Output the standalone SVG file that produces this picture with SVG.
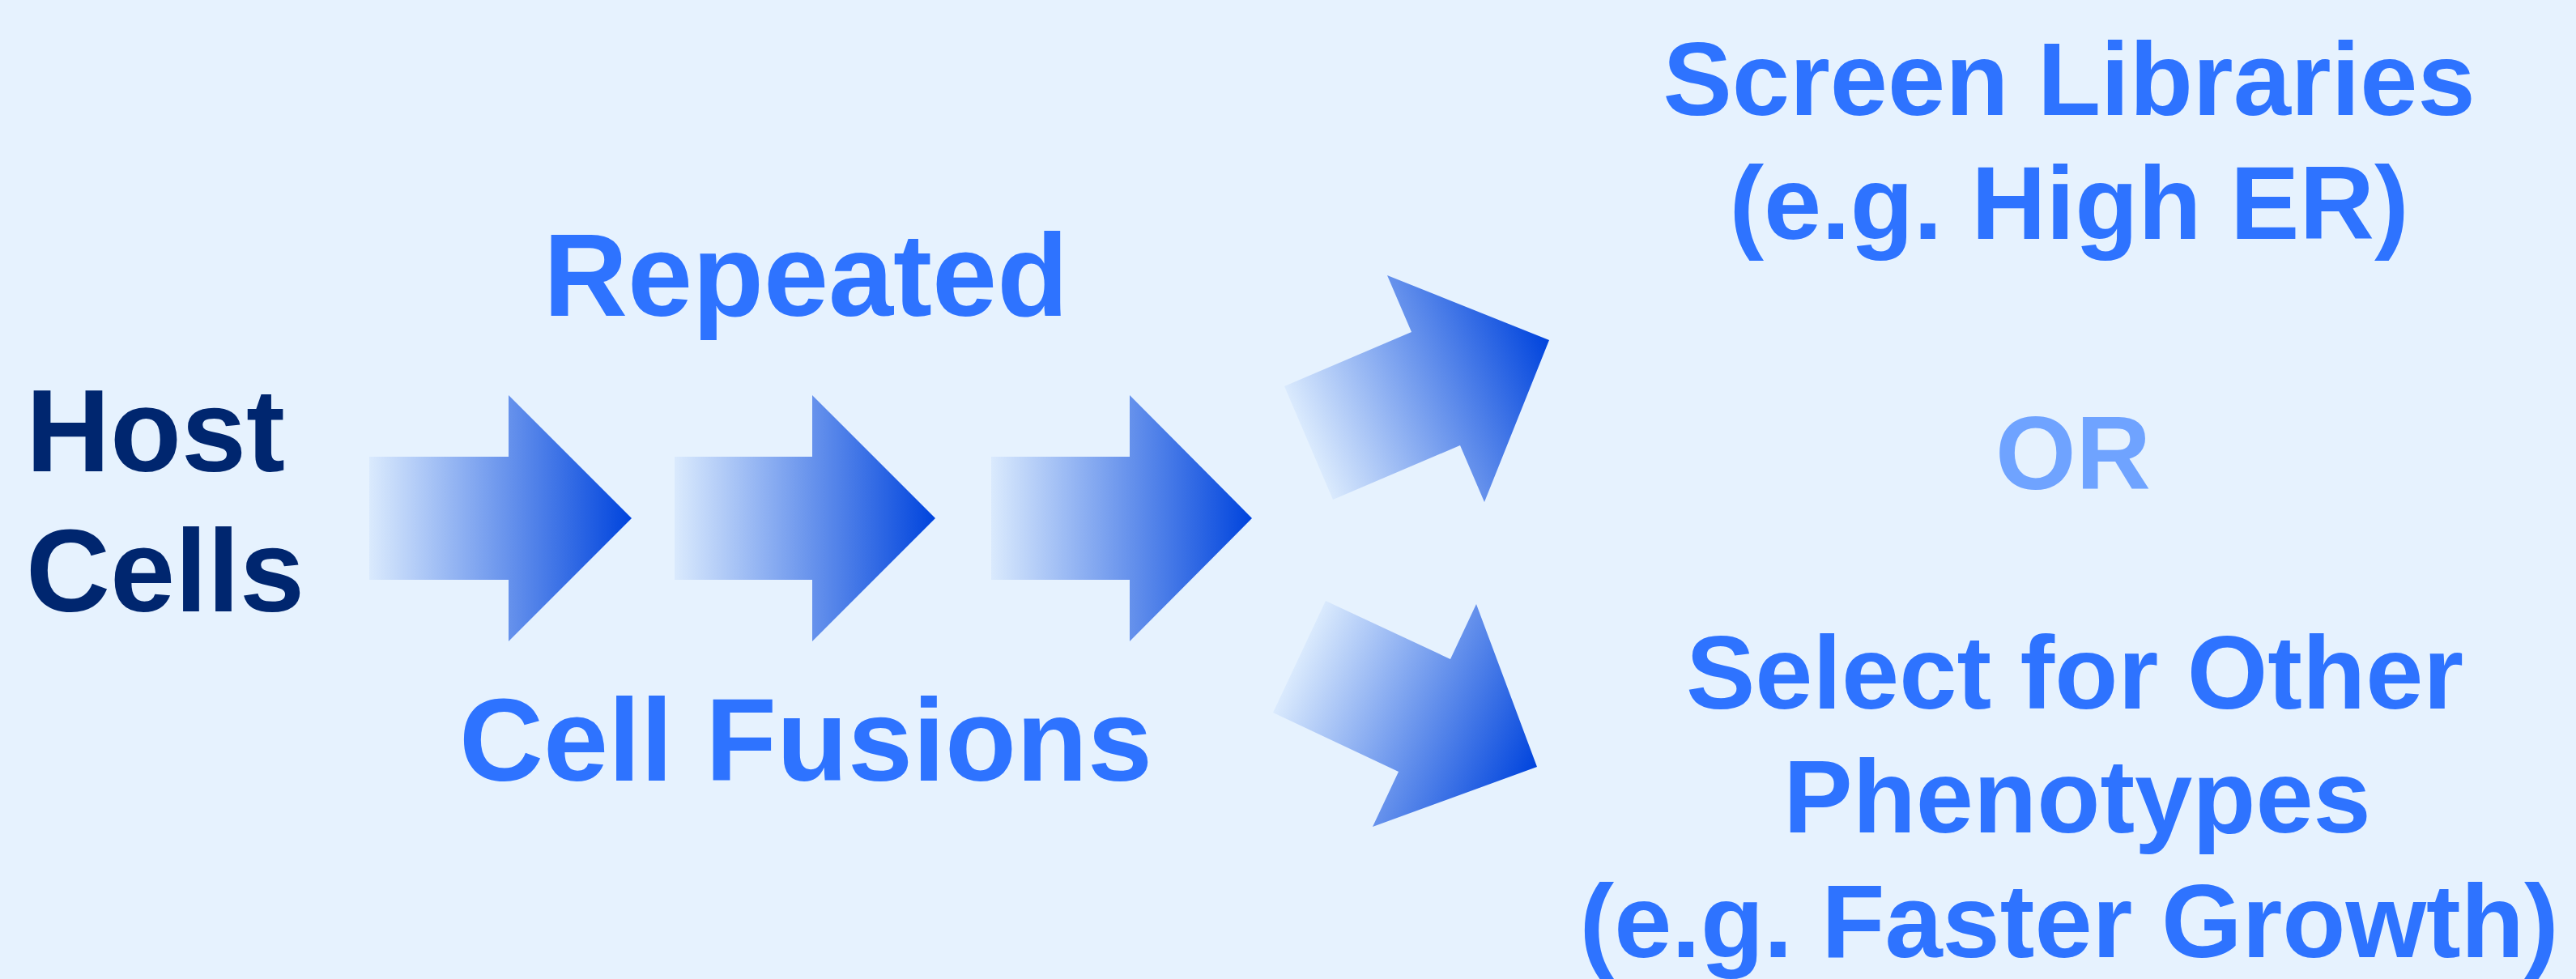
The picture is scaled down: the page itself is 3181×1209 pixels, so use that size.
<svg xmlns="http://www.w3.org/2000/svg" width="3181" height="1209" viewBox="0 0 3181 1209">
<style>
text{font-family:"Liberation Sans",Arial,sans-serif;font-weight:bold}
.host{fill:#00266F;font-size:144px}
.lbl{fill:#2E73FF;font-size:144px;text-anchor:middle}
.out{fill:#2E73FF;font-size:128px;text-anchor:middle}
.or{fill:#6FA3FF;font-size:128px;text-anchor:middle}
</style>
<defs>
<linearGradient id="gH" x1="0" y1="0" x2="1" y2="0">
<stop offset="0" stop-color="#DAEAFD"/>
<stop offset="1" stop-color="#0044DD"/>
</linearGradient>
<linearGradient id="gU" gradientUnits="userSpaceOnUse" x1="1616" y1="547" x2="1913" y2="420">
<stop offset="0" stop-color="#DAEAFD"/>
<stop offset="1" stop-color="#0044DD"/>
</linearGradient>
<linearGradient id="gL" gradientUnits="userSpaceOnUse" x1="1604" y1="811" x2="1898" y2="947">
<stop offset="0" stop-color="#DAEAFD"/>
<stop offset="1" stop-color="#0044DD"/>
</linearGradient>
</defs>
<rect width="3181" height="1209" fill="#E6F2FE"/>
<g id="host-cells">
<text class="host" x="32" y="582">Host</text>
<text class="host" x="32" y="755">Cells</text>
</g>
<g id="repeated"><text class="lbl" x="995" y="390">Repeated</text></g>
<g id="cell-fusions"><text class="lbl" x="995" y="964">Cell Fusions</text></g>
<g id="screen-libraries">
<text class="out" x="2555" y="142">Screen Libraries</text>
<text class="out" x="2555" y="295">(e.g. High ER)</text>
</g>
<g id="or"><text class="or" x="2560" y="604">OR</text></g>
<g id="select-other">
<text class="out" x="2562" y="875">Select for Other</text>
<text class="out" x="2565" y="1028">Phenotypes</text>
<text class="out" x="2555" y="1182">(e.g. Faster Growth)</text>
</g>
<g id="connectors">
<polygon fill="url(#gH)" points="456,564 628,564 628,488 780,640 628,792 628,716 456,716"/>
<polygon fill="url(#gH)" points="833,564 1003,564 1003,488 1155,640 1003,792 1003,716 833,716"/>
<polygon fill="url(#gH)" points="1224,564 1395,564 1395,488 1546,640 1395,792 1395,716 1224,716"/>
<polygon fill="url(#gU)" points="1586,477 1743,410 1713,340 1913,420 1833,620 1803,550 1646,617"/>
<polygon fill="url(#gL)" points="1637,742 1791,814 1823,746 1898,947 1695,1021 1727,953 1572,880"/>
</g>
</svg>
